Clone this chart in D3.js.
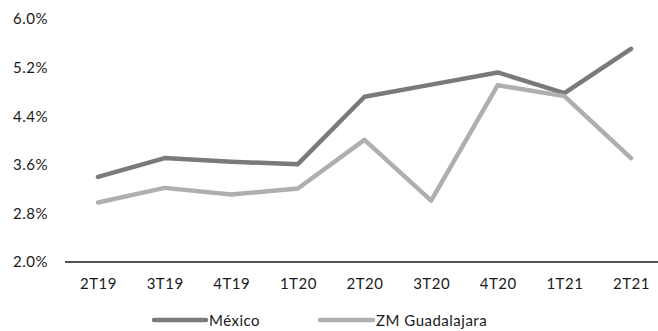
<!DOCTYPE html>
<html>
<head>
<meta charset="utf-8">
<script src="https://cdn.jsdelivr.net/npm/d3@7"></script>
<style>
  html, body { margin: 0; padding: 0; background: #fff; }
  svg { display: block; font-family: Lato, "Open Sans", sans-serif; }
  text { letter-spacing: 0.5px; }
</style>
</head>
<body>
<svg id="chart" width="658" height="331"></svg>
<script>
// Quarterly rates (%) by period
const quarters = ["2T19", "3T19", "4T19", "1T20", "2T20", "3T20", "4T20", "1T21", "2T21"];
const mexico = [3.40, 3.71, 3.65, 3.61, 4.72, 4.92, 5.12, 4.78, 5.51];
const guadalajara = [2.98, 3.22, 3.11, 3.21, 4.01, 3.01, 4.91, 4.73, 3.71];
const yTicks = [2.0, 2.8, 3.6, 4.4, 5.2, 6.0];
const seriesNames = ["México", "ZM Guadalajara"];

const colors = ["#7a7a7a", "#afafaf"];
const font = "15px";
const svg = d3.select("#chart");
const W = 658;

const x = d3.scalePoint().domain(quarters).range([98, 631]);
const y = d3.scaleLinear().domain([2.0, 6.0]).range([262, 19]);

// Y axis labels (no line, no ticks)
const yAxis = svg.append("g").attr("transform", "translate(48,0)")
  .call(d3.axisLeft(y).tickValues(yTicks).tickSize(0).tickPadding(0)
    .tickFormat(d => d.toFixed(1) + "%"));
yAxis.select(".domain").remove();
yAxis.selectAll("text").attr("fill", "#1a1a1a").style("font-size", font)
  .style("font-family", "Lato, sans-serif");

// X axis baseline and category labels
const xAxis = svg.append("g").attr("transform", `translate(0,${y(2.0)})`)
  .call(d3.axisBottom(x).tickSize(0).tickPadding(16));
xAxis.select(".domain").remove();
xAxis.append("line").attr("x1", 65).attr("x2", W).attr("y1", 0).attr("y2", 0)
  .attr("stroke", "#1a1a1a").attr("stroke-width", 1.3);
xAxis.selectAll("text").attr("fill", "#1a1a1a").style("font-size", font)
  .style("font-family", "Lato, sans-serif");

const line = d3.line().x((d, i) => x(quarters[i])).y(d => y(d));

[mexico, guadalajara].forEach((s, k) => {
  svg.append("path").datum(s).attr("d", line)
    .attr("fill", "none").attr("stroke", colors[k]).attr("stroke-width", 4.5)
    .attr("stroke-linecap", "round").attr("stroke-linejoin", "round");
});

// Legend
const legend = [{x1: 154, x2: 206, tx: 209}, {x1: 320, x2: 373, tx: 376}];
legend.forEach((l, k) => {
  svg.append("line").attr("x1", l.x1).attr("x2", l.x2).attr("y1", 320).attr("y2", 320)
    .attr("stroke", colors[k]).attr("stroke-width", 4.5).attr("stroke-linecap", "round");
  svg.append("text").attr("x", l.tx).attr("y", 325.5).attr("fill", "#1a1a1a")
    .style("font-size", font).text(seriesNames[k]);
});
</script>
</body>
</html>
